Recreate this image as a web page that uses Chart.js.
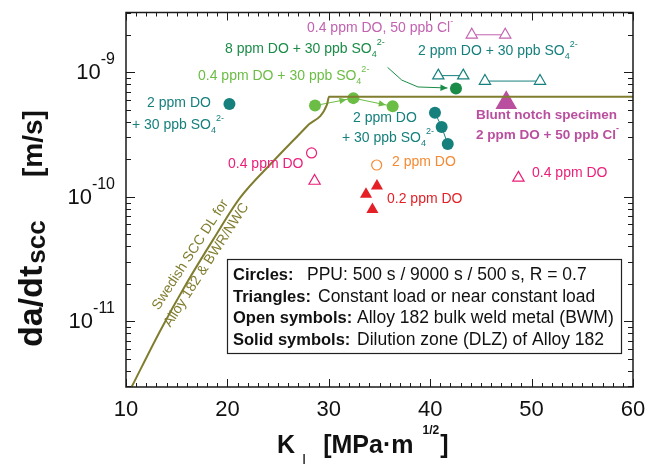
<!DOCTYPE html>
<html lang="en">
<head>
<meta charset="UTF-8" />
<title>SCC growth rate vs stress intensity</title>
<script src="https://cdn.jsdelivr.net/npm/chart.js@4.4.1/dist/chart.umd.min.js"></script>
<style>
  html, body { margin: 0; padding: 0; background: #fff; }
</style>
</head>
<body>
<canvas id="scc" width="661" height="466"></canvas>
<script>
  // axis ticks
  const kTicks = [10, 20, 30, 40, 50, 60];
  const rateDecades = [1e-11, 1e-10, 1e-9];
  const rateDecadeLabels = ["-11", "-10", "-9"];

  // Swedish SCC disposition line (Alloy 182, BWR/NWC)
  const dlK = [10.56, 13.35, 15.99, 18.58, 21.24, 24.5, 27.85, 29.82, 30.02, 60];
  const dlRate = [2.98e-12, 8.34e-12, 2.03e-11, 4.51e-11, 9.8e-11, 1.92e-10, 3.69e-10, 5.49e-10, 6.35e-10, 6.35e-10];

  // solid circles (DLZ, PPU loading)
  const dlz2So4SingleK = [20.2];
  const dlz2So4SingleRate = [5.57e-10];
  const dlz04So4K = [28.64, 32.42, 36.3];
  const dlz04So4Rate = [5.4e-10, 6.2e-10, 5.33e-10];
  const dlz8So4K = [42.54];
  const dlz8So4Rate = [7.4e-10];
  const dlz2So4K = [40.47, 41.13, 41.73];
  const dlz2So4Rate = [4.73e-10, 3.64e-10, 2.65e-10];

  // solid triangles (DLZ, constant load)
  const dlz02TriK = [33.67, 34.75, 34.3];
  const dlz02TriRate = [1.047e-10, 1.22e-10, 7.9e-11];
  const bluntK = [47.5];
  const bluntRate = [5.68e-10];

  // open symbols (BWM)
  const bwm04CircK = [28.3];
  const bwm04CircRate = [2.25e-10];
  const bwm04TriK = [28.6, 48.7];
  const bwm04TriRate = [1.34e-10, 1.42e-10];
  const bwm2CircK = [34.72];
  const bwm2CircRate = [1.8e-10];
  const bwmClTriK = [44.1, 47.4];
  const bwmClTriRate = [2.0e-9, 2.0e-9];
  const bwmSo4TriAK = [40.8, 43.26];
  const bwmSo4TriARate = [9.4e-10, 9.4e-10];
  const bwmSo4TriBK = [45.4, 50.83];
  const bwmSo4TriBRate = [8.5e-10, 8.5e-10];

  // leader from the 8 ppm DO label to its point
  const arrow8K = [35.8, 37.2, 38.8, 41.7];
  const arrow8Rate = [1.094e-9, 8.65e-10, 7.62e-10, 7.48e-10];

  const OLIVE = "#807d2f";
  const TEAL = "#16807d";
  const LGREEN = "#6cbd45";
  const DGREEN = "#1b8c48";
  const MAGENTA = "#b94f9e";
  const LMAGENTA = "#c262b0";
  const PINK = "#ec1e79";
  const ORANGE = "#f58a33";
  const RED = "#e41f26";
  const INK = "#111";
  const FONT = '"Liberation Sans", Arial, Helvetica, sans-serif';

  function pts(xs, ys) {
    return xs.map((x, i) => ({ x: x, y: ys[i] }));
  }

  function marks(xs, ys, color, style, radius, filled, line) {
    return {
      data: pts(xs, ys),
      pointStyle: style,
      pointRadius: radius,
      pointBackgroundColor: filled ? color : "#fff",
      pointBorderColor: color,
      pointBorderWidth: filled ? 0 : 1.2,
      borderColor: color,
      borderWidth: 1,
      showLine: !!line,
    };
  }

  // text helpers: runs of {t, s(ize), b(old), dy, gap}
  function setFont(ctx, r) {
    ctx.font = (r.b ? "bold " : "") + r.s + "px " + FONT;
  }
  function runsWidth(ctx, runs) {
    let w = 0;
    runs.forEach((r) => {
      setFont(ctx, r);
      w += ctx.measureText(r.t).width + (r.gap || 0);
    });
    return w;
  }
  function drawRuns(ctx, runs, x, y, align, color) {
    const w = runsWidth(ctx, runs);
    let cx = align === "center" ? x - w / 2 : align === "right" ? x - w : x;
    ctx.fillStyle = color;
    ctx.textAlign = "left";
    ctx.textBaseline = "alphabetic";
    runs.forEach((r) => {
      setFont(ctx, r);
      ctx.fillText(r.t, cx, y + (r.dy || 0));
      cx += ctx.measureText(r.t).width + (r.gap || 0);
    });
  }
  const T = (t, s, extra) => Object.assign({ t: t, s: s || 14 }, extra || {});
  const so4 = () => [T("4", 9, { dy: 4 }), T("2-", 9, { dy: -8 })];

  function arrowHead(ctx, x0, y0, x1, y1, back, color) {
    const a = Math.atan2(y1 - y0, x1 - x0);
    const tx = x1 - Math.cos(a) * back;
    const ty = y1 - Math.sin(a) * back;
    ctx.save();
    ctx.fillStyle = color;
    ctx.translate(tx, ty);
    ctx.rotate(a);
    ctx.beginPath();
    ctx.moveTo(0, 0);
    ctx.lineTo(-7, -3.2);
    ctx.lineTo(-7, 3.2);
    ctx.closePath();
    ctx.fill();
    ctx.restore();
  }

  const decorations = {
    id: "decorations",
    afterDatasetsDraw(chart) {
      const ctx = chart.ctx;
      const xs = chart.scales.x;
      const ys = chart.scales.y;
      const px = (k) => xs.getPixelForValue(k);
      const py = (r) => ys.getPixelForValue(r);

      // arrows between the 0.4 ppm DO + SO4 circles
      for (let i = 1; i < dlz04So4K.length; i++) {
        arrowHead(ctx, px(dlz04So4K[i - 1]), py(dlz04So4Rate[i - 1]),
          px(dlz04So4K[i]), py(dlz04So4Rate[i]), 7, LGREEN);
      }
      const n = arrow8K.length;
      arrowHead(ctx, px(arrow8K[n - 2]), py(arrow8Rate[n - 2]),
        px(arrow8K[n - 1]), py(arrow8Rate[n - 1]), 0, DGREEN);
    },
    afterDraw(chart) {
      const ctx = chart.ctx;
      const a = chart.chartArea;
      const xs = chart.scales.x;
      const ys = chart.scales.y;

      // frame
      ctx.save();
      ctx.strokeStyle = "#1a1a1a";
      ctx.lineWidth = 1.5;
      ctx.strokeRect(a.left, a.top, a.right - a.left, a.bottom - a.top);

      // inward ticks on all four sides
      ctx.lineWidth = 1;
      ctx.beginPath();
      for (let k = 10; k <= 60; k++) {
        const x = Math.round(xs.getPixelForValue(k)) + 0.5;
        const len = k % 10 === 0 ? 8 : 4;
        ctx.moveTo(x, a.bottom); ctx.lineTo(x, a.bottom - len);
        ctx.moveTo(x, a.top); ctx.lineTo(x, a.top + len);
      }
      for (let e = -12; e <= -9; e++) {
        for (let m = 1; m <= 9; m++) {
          const v = m * Math.pow(10, e);
          if (v < ys.min * 0.999 || v > ys.max * 1.001) continue;
          const y = Math.round(ys.getPixelForValue(v)) + 0.5;
          const len = m === 1 ? 9 : 5;
          ctx.moveTo(a.left, y); ctx.lineTo(a.left + len, y);
          ctx.moveTo(a.right, y); ctx.lineTo(a.right - len, y);
        }
      }
      ctx.stroke();

      // tick labels
      kTicks.forEach((k) => {
        drawRuns(ctx, [T(String(k), 22)], xs.getPixelForValue(k), a.bottom + 29, "center", INK);
      });
      rateDecades.forEach((v, i) => {
        const y = ys.getPixelForValue(v);
        drawRuns(ctx, [T("10", 22), T(rateDecadeLabels[i], 16, { dy: -15 })], a.left - 11, y + 7, "right", INK);
      });

      // axis titles
      drawRuns(ctx, [
        T("K", 25, { b: 1, gap: 7 }),
        T("I", 15, { dy: 11, gap: 17 }),
        T("[MPa·m", 25, { b: 1, gap: 9 }),
        T("1/2", 12, { b: 1, dy: -19, gap: 1 }),
        T("]", 25, { b: 1 }),
      ], 277, 453, "left", INK);

      ctx.save();
      ctx.translate(42, 347);
      ctx.rotate(-Math.PI / 2);
      drawRuns(ctx, [T("da/dt", 34, { b: 1, gap: 2 }), T("scc", 26, { b: 1, dy: 3 })], 0, 0, "left", INK);
      drawRuns(ctx, [T("[m/s]", 28, { b: 1 })], 170, 0, "left", INK);
      ctx.restore();

      // series labels
      drawRuns(ctx, [T("2 ppm DO")], 179, 107, "center", TEAL);
      drawRuns(ctx, [T("+ 30 ppb SO")].concat(so4()), 178, 129, "center", TEAL);
      drawRuns(ctx, [T("0.4 ppm DO + 30 ppb SO")].concat(so4()), 198, 80, "left", LGREEN);
      drawRuns(ctx, [T("8 ppm DO + 30 ppb SO")].concat(so4()), 225, 53, "left", DGREEN);
      drawRuns(ctx, [T("0.4 ppm DO, 50 ppb Cl"), T("-", 9, { dy: -8 })], 307, 32, "left", LMAGENTA);
      drawRuns(ctx, [T("2 ppm DO + 30 ppb SO")].concat(so4()), 418, 55, "left", TEAL);
      drawRuns(ctx, [T("2 ppm DO")], 353, 122, "left", TEAL);
      drawRuns(ctx, [T("+ 30 ppb SO")].concat(so4()), 342, 142, "left", TEAL);
      drawRuns(ctx, [T("0.4 ppm DO")], 228, 168, "left", PINK);
      drawRuns(ctx, [T("2 ppm DO")], 392, 166, "left", ORANGE);
      drawRuns(ctx, [T("0.2 ppm DO")], 387, 203, "left", RED);
      drawRuns(ctx, [T("0.4 ppm DO")], 532, 177, "left", PINK);
      drawRuns(ctx, [T("Blunt notch specimen", 13.5, { b: 1 })], 476, 119, "left", MAGENTA);
      drawRuns(ctx, [T("2 ppm DO + 50 ppb Cl", 13.5, { b: 1 }), T("-", 9, { b: 1, dy: -8 })], 476, 139, "left", MAGENTA);

      // disposition line label
      ctx.save();
      ctx.translate(197, 259);
      ctx.rotate(-57 * Math.PI / 180);
      drawRuns(ctx, [T("Swedish SCC DL for", 14)], 0, -4, "center", OLIVE);
      drawRuns(ctx, [T("Alloy 182 & BWR/NWC", 14)], 0, 15, "center", OLIVE);
      ctx.restore();

      // symbol key
      ctx.fillStyle = "#fff";
      ctx.fillRect(227, 259, 394, 94);
      ctx.strokeStyle = "#222";
      ctx.lineWidth = 1.2;
      ctx.strokeRect(227.5, 259.5, 394, 94);
      const keyRows = [
        ["Circles:", "PPU: 500 s / 9000 s / 500 s, R = 0.7", 307, 280],
        ["Triangles:", "Constant load or near constant load", 318, 301.5],
        ["Open symbols:", "Alloy 182 bulk weld metal (BWM)", 357, 323],
        ["Solid symbols:", "Dilution zone (DLZ) of Alloy 182", 357, 344.5],
      ];
      keyRows.forEach((row) => {
        drawRuns(ctx, [T(row[0], 16.5, { b: 1 })], 233, row[3], "left", INK);
        drawRuns(ctx, [T(row[1], 17.5)], row[2], row[3], "left", INK);
      });
      ctx.restore();
    },
  };

  new Chart(document.getElementById("scc"), {
    type: "scatter",
    data: {
      datasets: [
        {
          data: pts(dlK, dlRate),
          showLine: true,
          borderColor: OLIVE,
          borderWidth: 2,
          pointRadius: 0,
          cubicInterpolationMode: "monotone",
        },
        {
          data: pts(arrow8K, arrow8Rate),
          showLine: true,
          borderColor: DGREEN,
          borderWidth: 1,
          pointRadius: 0,
        },
        marks(dlz04So4K, dlz04So4Rate, LGREEN, "circle", 6, true, true),
        marks(dlz2So4SingleK, dlz2So4SingleRate, TEAL, "circle", 6, true, false),
        marks(dlz8So4K, dlz8So4Rate, DGREEN, "circle", 6, true, false),
        marks(dlz2So4K, dlz2So4Rate, TEAL, "circle", 6, true, true),
        marks(dlz02TriK, dlz02TriRate, RED, "triangle", 7, true, false),
        marks(bluntK, bluntRate, MAGENTA, "triangle", 12.5, true, false),
        marks(bwm04CircK, bwm04CircRate, PINK, "circle", 5, false, false),
        marks(bwm04TriK, bwm04TriRate, PINK, "triangle", 6.5, false, false),
        marks(bwm2CircK, bwm2CircRate, ORANGE, "circle", 5, false, false),
        marks(bwmClTriK, bwmClTriRate, LMAGENTA, "triangle", 6.5, false, true),
        marks(bwmSo4TriAK, bwmSo4TriARate, TEAL, "triangle", 6.5, false, true),
        marks(bwmSo4TriBK, bwmSo4TriBRate, TEAL, "triangle", 6.5, false, true),
      ],
    },
    options: {
      responsive: false,
      animation: false,
      events: [],
      layout: { padding: { left: 126, right: 28, top: 5, bottom: 79 } },
      plugins: { legend: { display: false }, tooltip: { enabled: false } },
      scales: {
        x: { type: "linear", min: 10, max: 60, display: false },
        y: { type: "logarithmic", min: 2.97e-12, max: 3.02e-9, display: false },
      },
    },
    plugins: [decorations],
  });
</script>
</body>
</html>
